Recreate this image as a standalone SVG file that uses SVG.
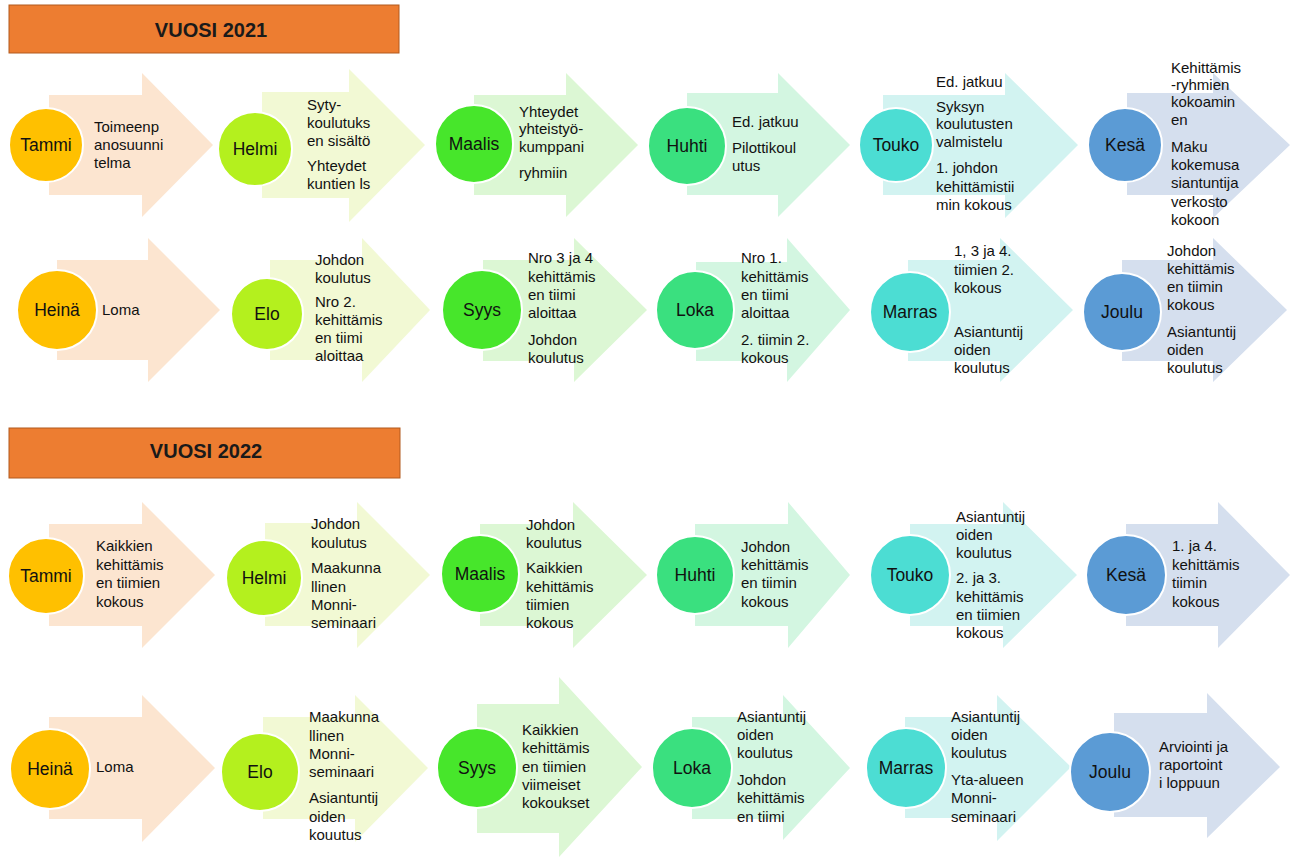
<svg xmlns="http://www.w3.org/2000/svg" width="1290" height="858" viewBox="0 0 1290 858">
<style>
.bg{fill:#ffffff}
.hdr{fill:#ED7D31;stroke:#B25B1E;stroke-width:1}
.ht{font-family:"Liberation Sans",Arial,sans-serif;font-size:20px;font-weight:bold;fill:#1a1a1a;text-anchor:middle}
.t{font-family:"Liberation Sans",Arial,sans-serif;font-size:15px;fill:#111}
.m{font-family:"Liberation Sans",Arial,sans-serif;font-size:17.5px;fill:#111;text-anchor:middle}
circle{stroke:#ffffff;stroke-width:2}
.a1{fill:#FCE5D0}.c1{fill:#FFC000}
.a2{fill:#F2F9D4}.c2{fill:#B4F01E}
.a3{fill:#DCF7D4}.c3{fill:#47E62B}
.a4{fill:#D3F6E1}.c4{fill:#3AE07F}
.a5{fill:#D2F3F1}.c5{fill:#4CDDD3}
.a6{fill:#D5DFEE}.c6{fill:#5B9BD5}
</style>
<rect class="bg" x="0" y="0" width="1290" height="858"/>
<g id="header2021"><rect class="hdr" x="9" y="5" width="390" height="48"/><text class="ht" x="211" y="37">VUOSI 2021</text></g>
<g id="header2022"><rect class="hdr" x="9" y="428" width="391" height="50"/><text class="ht" x="206" y="458">VUOSI 2022</text></g>

<g id="n2021-tammi"><path class="a1" d="M49,95 H142 V73 L213,145 L142,217 V195 H49 Z"/><circle class="c1" cx="46" cy="145" r="37"/><text class="m" x="46" y="151">Tammi</text>
<text class="t"><tspan x="94" y="132">Toimeenp</tspan><tspan x="94" y="150">anosuunni</tspan><tspan x="94" y="168">telma</tspan></text></g>
<g id="n2021-helmi"><path class="a2" d="M262,92 H349 V69 L425,145 L349,222 V198 H262 Z"/><circle class="c2" cx="255" cy="149" r="37"/><text class="m" x="255" y="155">Helmi</text>
<text class="t"><tspan x="307" y="110">Syty-</tspan><tspan x="307" y="128">koulutuks</tspan><tspan x="307" y="146">en sisältö</tspan><tspan x="307" y="171">Yhteydet</tspan><tspan x="307" y="189">kuntien ls</tspan></text></g>
<g id="n2021-maalis"><path class="a3" d="M474,95 H566 V73 L638,145 L566,217 V195 H474 Z"/><circle class="c3" cx="474" cy="144" r="39"/><text class="m" x="474" y="150">Maalis</text>
<text class="t"><tspan x="519" y="117">Yhteydet</tspan><tspan x="519" y="134">yhteistyö-</tspan><tspan x="519" y="152">kumppani</tspan><tspan x="519" y="178">ryhmiin</tspan></text></g>
<g id="n2021-huhti"><path class="a4" d="M687,93 H778 V73 L850,145 L778,217 V195 H687 Z"/><circle class="c4" cx="687" cy="146" r="39"/><text class="m" x="687" y="152">Huhti</text>
<text class="t"><tspan x="732" y="127">Ed. jatkuu</tspan><tspan x="732" y="153">Pilottikoul</tspan><tspan x="732" y="171">utus</tspan></text></g>
<g id="n2021-touko"><path class="a5" d="M883,95 H1005 V73 L1078,145 L1005,218 V195 H883 Z"/><circle class="c5" cx="896" cy="145" r="37"/><text class="m" x="896" y="151">Touko</text>
<text class="t"><tspan x="936" y="87">Ed. jatkuu</tspan><tspan x="936" y="112">Syksyn</tspan><tspan x="936" y="129">koulutusten</tspan><tspan x="936" y="147">valmistelu</tspan><tspan x="936" y="173">1. johdon</tspan><tspan x="936" y="192">kehittämistii</tspan><tspan x="936" y="210">min kokous</tspan></text></g>
<g id="n2021-kesa"><path class="a6" d="M1127,93 H1213 V73 L1290,145 L1213,218 V195 H1127 Z"/><circle class="c6" cx="1125" cy="145" r="37"/><text class="m" x="1125" y="151">Kesä</text>
<text class="t"><tspan x="1171" y="73">Kehittämis</tspan><tspan x="1171" y="90">-ryhmien</tspan><tspan x="1171" y="107">kokoamin</tspan><tspan x="1171" y="125">en</tspan><tspan x="1171" y="152">Maku</tspan><tspan x="1171" y="170">kokemusa</tspan><tspan x="1171" y="188">siantuntija</tspan><tspan x="1171" y="207">verkosto</tspan><tspan x="1171" y="225">kokoon</tspan></text></g>

<g id="n2021-heina"><path class="a1" d="M57,260 H148 V238 L220,310 L148,382 V360 H57 Z"/><circle class="c1" cx="57" cy="310" r="40"/><text class="m" x="57" y="316">Heinä</text>
<text class="t"><tspan x="102" y="315">Loma</tspan></text></g>
<g id="n2021-elo"><path class="a2" d="M270,260 H362 V238 L430,310 L362,382 V360 H270 Z"/><circle class="c2" cx="267" cy="314" r="36"/><text class="m" x="267" y="320">Elo</text>
<text class="t"><tspan x="315" y="265">Johdon</tspan><tspan x="315" y="283">koulutus</tspan><tspan x="315" y="307">Nro 2.</tspan><tspan x="315" y="325">kehittämis</tspan><tspan x="315" y="343">en tiimi</tspan><tspan x="315" y="361">aloittaa</tspan></text></g>
<g id="n2021-syys"><path class="a3" d="M483,260 H574 V238 L647,310 L574,382 V361 H483 Z"/><circle class="c3" cx="482" cy="310" r="40"/><text class="m" x="482" y="316">Syys</text>
<text class="t"><tspan x="528" y="263">Nro 3 ja 4</tspan><tspan x="528" y="282">kehittämis</tspan><tspan x="528" y="300">en tiimi</tspan><tspan x="528" y="318">aloittaa</tspan><tspan x="528" y="345">Johdon</tspan><tspan x="528" y="363">koulutus</tspan></text></g>
<g id="n2021-loka"><path class="a4" d="M696,262 H787 V238 L850,310 L787,382 V361 H696 Z"/><circle class="c4" cx="695" cy="310" r="39"/><text class="m" x="695" y="316">Loka</text>
<text class="t"><tspan x="741" y="263">Nro 1.</tspan><tspan x="741" y="282">kehittämis</tspan><tspan x="741" y="300">en tiimi</tspan><tspan x="741" y="318">aloittaa</tspan><tspan x="741" y="345">2. tiimin 2.</tspan><tspan x="741" y="363">kokous</tspan></text></g>
<g id="n2021-marras"><path class="a5" d="M908,260 H1000 V238 L1073,310 L1000,382 V361 H908 Z"/><circle class="c5" cx="910" cy="312" r="40"/><text class="m" x="910" y="318">Marras</text>
<text class="t"><tspan x="954" y="256">1, 3 ja 4.</tspan><tspan x="954" y="275">tiimien 2.</tspan><tspan x="954" y="293">kokous</tspan><tspan x="954" y="337">Asiantuntij</tspan><tspan x="954" y="355">oiden</tspan><tspan x="954" y="373">koulutus</tspan></text></g>
<g id="n2021-joulu"><path class="a6" d="M1122,260 H1213 V238 L1287,310 L1213,382 V361 H1122 Z"/><circle class="c6" cx="1122" cy="312" r="39"/><text class="m" x="1122" y="318">Joulu</text>
<text class="t"><tspan x="1167" y="256">Johdon</tspan><tspan x="1167" y="274">kehittämis</tspan><tspan x="1167" y="292">en tiimin</tspan><tspan x="1167" y="310">kokous</tspan><tspan x="1167" y="337">Asiantuntij</tspan><tspan x="1167" y="355">oiden</tspan><tspan x="1167" y="373">koulutus</tspan></text></g>

<g id="n2022-tammi"><path class="a1" d="M49,524 H142 V502 L215,575 L142,648 V626 H49 Z"/><circle class="c1" cx="46" cy="576" r="38"/><text class="m" x="46" y="582">Tammi</text>
<text class="t"><tspan x="96" y="551">Kaikkien</tspan><tspan x="96" y="570">kehittämis</tspan><tspan x="96" y="588">en tiimien</tspan><tspan x="96" y="607">kokous</tspan></text></g>
<g id="n2022-helmi"><path class="a2" d="M265,523 H357 V502 L430,575 L357,648 V626 H265 Z"/><circle class="c2" cx="264" cy="578" r="38"/><text class="m" x="264" y="584">Helmi</text>
<text class="t"><tspan x="311" y="529">Johdon</tspan><tspan x="311" y="548">koulutus</tspan><tspan x="311" y="573">Maakunna</tspan><tspan x="311" y="592">llinen</tspan><tspan x="311" y="610">Monni-</tspan><tspan x="311" y="628">seminaari</tspan></text></g>
<g id="n2022-maalis"><path class="a3" d="M480,524 H573 V502 L647,575 L573,648 V626 H480 Z"/><circle class="c3" cx="480" cy="574" r="39"/><text class="m" x="480" y="580">Maalis</text>
<text class="t"><tspan x="526" y="530">Johdon</tspan><tspan x="526" y="548">koulutus</tspan><tspan x="526" y="573">Kaikkien</tspan><tspan x="526" y="592">kehittämis</tspan><tspan x="526" y="610">tiimien</tspan><tspan x="526" y="628">kokous</tspan></text></g>
<g id="n2022-huhti"><path class="a4" d="M695,524 H788 V502 L850,575 L788,648 V626 H695 Z"/><circle class="c4" cx="695" cy="575" r="39"/><text class="m" x="695" y="581">Huhti</text>
<text class="t"><tspan x="741" y="552">Johdon</tspan><tspan x="741" y="570">kehittämis</tspan><tspan x="741" y="588">en tiimin</tspan><tspan x="741" y="607">kokous</tspan></text></g>
<g id="n2022-touko"><path class="a5" d="M910,524 H1003 V502 L1077,575 L1003,648 V626 H910 Z"/><circle class="c5" cx="910" cy="575" r="40"/><text class="m" x="910" y="581">Touko</text>
<text class="t"><tspan x="956" y="522">Asiantuntij</tspan><tspan x="956" y="540">oiden</tspan><tspan x="956" y="558">koulutus</tspan><tspan x="956" y="583">2. ja 3.</tspan><tspan x="956" y="602">kehittämis</tspan><tspan x="956" y="620">en tiimien</tspan><tspan x="956" y="638">kokous</tspan></text></g>
<g id="n2022-kesa"><path class="a6" d="M1126,524 H1218 V502 L1290,575 L1218,648 V626 H1126 Z"/><circle class="c6" cx="1126" cy="575" r="40"/><text class="m" x="1126" y="581">Kesä</text>
<text class="t"><tspan x="1172" y="551">1. ja 4.</tspan><tspan x="1172" y="570">kehittämis</tspan><tspan x="1172" y="588">tiimin</tspan><tspan x="1172" y="607">kokous</tspan></text></g>

<g id="n2022-heina"><path class="a1" d="M49,717 H142 V695 L215,768 L142,842 V819 H49 Z"/><circle class="c1" cx="50" cy="769" r="40"/><text class="m" x="50" y="775">Heinä</text>
<text class="t"><tspan x="96" y="772">Loma</tspan></text></g>
<g id="n2022-elo"><path class="a2" d="M263,717 H355 V695 L428,768 L355,842 V819 H263 Z"/><circle class="c2" cx="260" cy="772" r="39"/><text class="m" x="260" y="778">Elo</text>
<text class="t"><tspan x="309" y="722">Maakunna</tspan><tspan x="309" y="741">llinen</tspan><tspan x="309" y="759">Monni-</tspan><tspan x="309" y="777">seminaari</tspan><tspan x="309" y="803">Asiantuntij</tspan><tspan x="309" y="822">oiden</tspan><tspan x="309" y="840">kouutus</tspan></text></g>
<g id="n2022-syys"><path class="a3" d="M477,704 H559 V677 L642,767 L559,857 V833 H477 Z"/><circle class="c3" cx="477" cy="768" r="40"/><text class="m" x="477" y="774">Syys</text>
<text class="t"><tspan x="522" y="735">Kaikkien</tspan><tspan x="522" y="753">kehittämis</tspan><tspan x="522" y="772">en tiimien</tspan><tspan x="522" y="790">viimeiset</tspan><tspan x="522" y="808">kokoukset</tspan></text></g>
<g id="n2022-loka"><path class="a4" d="M692,717 H783 V695 L850,768 L783,840 V819 H692 Z"/><circle class="c4" cx="692" cy="768" r="40"/><text class="m" x="692" y="774">Loka</text>
<text class="t"><tspan x="737" y="722">Asiantuntij</tspan><tspan x="737" y="740">oiden</tspan><tspan x="737" y="758">koulutus</tspan><tspan x="737" y="785">Johdon</tspan><tspan x="737" y="803">kehittämis</tspan><tspan x="737" y="822">en tiimi</tspan></text></g>
<g id="n2022-marras"><path class="a5" d="M905,717 H997 V695 L1071,767 L997,841 V818 H905 Z"/><circle class="c5" cx="906" cy="768" r="40"/><text class="m" x="906" y="774">Marras</text>
<text class="t"><tspan x="951" y="722">Asiantuntij</tspan><tspan x="951" y="740">oiden</tspan><tspan x="951" y="758">koulutus</tspan><tspan x="951" y="785">Yta-alueen</tspan><tspan x="951" y="803">Monni-</tspan><tspan x="951" y="822">seminaari</tspan></text></g>
<g id="n2022-joulu"><path class="a6" d="M1114,713 H1207 V693 L1280,767 L1207,838 V817 H1114 Z"/><circle class="c6" cx="1110" cy="772" r="40"/><text class="m" x="1110" y="778">Joulu</text>
<text class="t"><tspan x="1159" y="752">Arviointi ja</tspan><tspan x="1159" y="770">raportoint</tspan><tspan x="1159" y="788">i loppuun</tspan></text></g>
</svg>
